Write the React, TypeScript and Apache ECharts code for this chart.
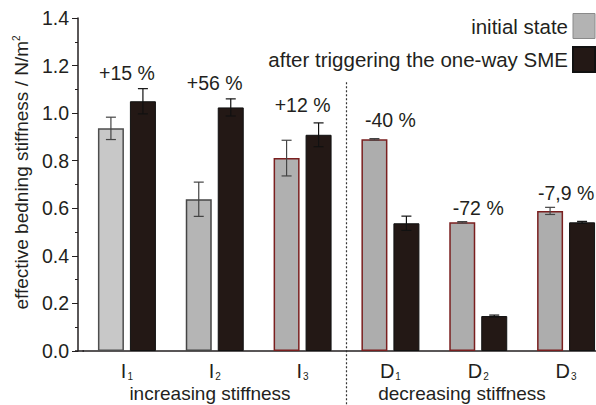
import React, { useEffect, useRef } from "react";
import * as echarts from "echarts";

// ---- data ----
const categories = ["I1", "I2", "I3", "D1", "D2", "D3"];
const initialState = [0.936, 0.638, 0.811, 0.89, 0.541, 0.589];
const initialErr = [0.047, 0.072, 0.075, 0.003, 0.003, 0.015];
const afterSME = [1.05, 1.024, 0.909, 0.537, 0.147, 0.541];
const afterErr = [0.053, 0.036, 0.05, 0.03, 0.004, 0.004];
const changeLabels = ["+15 %", "+56 %", "+12 %", "-40 %", "-72 %", "-7,9 %"];
const changeLabelY = [1.167, 1.128, 1.034, 0.971, 0.602, 0.663];
const groupNames = ["increasing stiffness", "decreasing stiffness"];
const seriesNames = ["initial state", "after triggering the one-way SME"];

// ---- styles ----
const initialFill = ["#c8c8c8", "#b5b5b5", "#b0b0b0", "#adadad", "#adadad", "#adadad"];
const initialBorder = ["#4e4e4e", "#454545", "#7a1f1f", "#7a1f1f", "#7a1f1f", "#7a1f1f"];
const darkFill = "#231815";
const textColor = "#231f20";
const FONT = "'Liberation Sans', Arial, Helvetica, sans-serif";
const EXTRA = 14; // chart canvas extends beyond the visible right edge

export default function App() {
  const ref = useRef<HTMLDivElement>(null);

  useEffect(() => {
    if (!ref.current) return;
    document.body.style.overflow = "hidden";
    const chart = echarts.init(ref.current, undefined, { renderer: "svg" });

    const errData: number[][] = [];
    categories.forEach((_, i) => {
      errData.push([i, initialState[i], initialErr[i], -1]);
      errData.push([i, afterSME[i], afterErr[i], 1]);
    });
    const lblData = categories.map((_, i) => [i, changeLabelY[i]]);

    const option: any = {
      animation: false,
      textStyle: { fontFamily: FONT },
      grid: { left: 83, right: 0, top: 18, bottom: 54, containLabel: false },
      legend: {
        orient: "vertical",
        right: EXTRA,
        top: 13,
        padding: 0,
        align: "right",
        itemWidth: 22,
        itemHeight: 25,
        itemGap: 7,
        icon: "rect",
        textStyle: { fontSize: 20.5, color: textColor, fontFamily: FONT },
        data: [
          { name: seriesNames[0], itemStyle: { color: "#b3b3b3", borderColor: "#8a8a8a", borderWidth: 1 } },
          { name: seriesNames[1], itemStyle: { color: darkFill } },
        ],
      },
      xAxis: {
        type: "category",
        data: categories,
        axisLine: { lineStyle: { color: textColor, width: 1.5 } },
        axisTick: { alignWithLabel: true, length: 5, lineStyle: { color: textColor } },
        axisLabel: {
          margin: 10,
          color: textColor,
          formatter: (v: string) => `{b|${v[0]}}{s|${v.slice(1)}}`,
          rich: {
            b: { fontSize: 20, color: textColor, fontFamily: FONT, verticalAlign: "bottom", lineHeight: 20 },
            s: { fontSize: 10, color: textColor, fontFamily: FONT, verticalAlign: "bottom", lineHeight: 14, padding: [0, 0, 0, 1] },
          },
        },
      },
      yAxis: {
        type: "value",
        min: 0,
        max: 1.4,
        interval: 0.2,
        offset: 5,
        name: "effective bedning stiffness / N/m{sup|2}",
        nameLocation: "middle",
        nameGap: 44,
        nameTextStyle: {
          fontSize: 19,
          color: textColor,
          fontFamily: FONT,
          padding: [0, 0, 0, 24],
          rich: {
            sup: { fontSize: 10, color: textColor, fontFamily: FONT, verticalAlign: "top", lineHeight: 10 },
          },
        },
        axisLine: { show: true, lineStyle: { color: textColor, width: 1.5 } },
        axisTick: { show: true, length: 6, lineStyle: { color: textColor } },
        minorTick: { show: true, splitNumber: 2, length: 3, lineStyle: { color: textColor } },
        splitLine: { show: false },
        axisLabel: {
          margin: 9,
          fontSize: 19.5,
          color: textColor,
          fontFamily: FONT,
          formatter: (v: number) => v.toFixed(1),
        },
      },
      series: [
        {
          name: seriesNames[0],
          type: "bar",
          barWidth: 26,
          barGap: "23%",
          itemStyle: { color: "#b3b3b3" },
          data: initialState.map((v, i) => ({
            value: v,
            itemStyle: { color: initialFill[i], borderColor: initialBorder[i], borderWidth: 1.5 },
          })),
        },
        {
          name: seriesNames[1],
          type: "bar",
          barWidth: 26,
          barGap: "23%",
          itemStyle: { color: darkFill, borderColor: "#111", borderWidth: 1 },
          data: afterSME,
        },
        {
          type: "custom",
          encode: { x: 0, y: 1 },
          z: 5,
          data: errData,
          renderItem: (params: any, api: any) => {
            const i = api.value(0);
            const v = api.value(1);
            const e = api.value(2);
            const side = api.value(3);
            const top = api.coord([i, v + e]);
            const bot = api.coord([i, v - e]);
            const x = top[0] + side * 16;
            const hw = 5;
            const stroke = side < 0 ? "#444" : "#111";
            const st = { stroke, lineWidth: 1.2 };
            return {
              type: "group",
              children: [
                { type: "line", shape: { x1: x, y1: top[1], x2: x, y2: bot[1] }, style: st },
                { type: "line", shape: { x1: x - hw, y1: top[1], x2: x + hw, y2: top[1] }, style: st },
                { type: "line", shape: { x1: x - hw, y1: bot[1], x2: x + hw, y2: bot[1] }, style: st },
              ],
            };
          },
        },
        {
          type: "custom",
          encode: { x: 0, y: 1 },
          z: 6,
          data: lblData,
          renderItem: (params: any, api: any) => {
            const p = api.coord([api.value(0), api.value(1)]);
            return {
              type: "text",
              x: p[0],
              y: p[1],
              style: {
                text: changeLabels[params.dataIndex],
                fontSize: 19.5,
                fontFamily: FONT,
                fill: textColor,
                align: "center",
                verticalAlign: "middle",
              },
            };
          },
        },
      ],
    };

    chart.setOption(option);

    const c2 = chart.convertToPixel({ xAxisIndex: 0 }, 2) as number;
    const c3 = chart.convertToPixel({ xAxisIndex: 0 }, 3) as number;
    const y0 = chart.convertToPixel({ yAxisIndex: 0 }, 0) as number;
    const yTop = chart.convertToPixel({ yAxisIndex: 0 }, 1.13) as number;
    const divX = (c2 + c3) / 2;

    chart.setOption({
      graphic: [
        {
          type: "line",
          shape: { x1: 75, y1: y0, x2: 84, y2: y0 },
          style: { stroke: textColor, lineWidth: 1.5 },
          z: 10,
        },
        {
          type: "line",
          shape: { x1: divX, y1: yTop, x2: divX, y2: 405 },
          style: { stroke: "#333", lineWidth: 1.2, lineDash: [2, 2] },
          z: 10,
        },
        {
          type: "text",
          x: 210,
          y: 393.5,
          style: { text: groupNames[0], fontSize: 19, fontFamily: FONT, fill: textColor, align: "center", verticalAlign: "middle" },
        },
        {
          type: "text",
          x: 462,
          y: 393.5,
          style: { text: groupNames[1], fontSize: 19, fontFamily: FONT, fill: textColor, align: "center", verticalAlign: "middle" },
        },
      ],
    });

    return () => chart.dispose();
  }, []);

  return (
    <div
      ref={ref}
      style={{ position: "fixed", left: 0, top: 0, width: 596 + EXTRA, height: 405, background: "#fff" }}
    />
  );
}
